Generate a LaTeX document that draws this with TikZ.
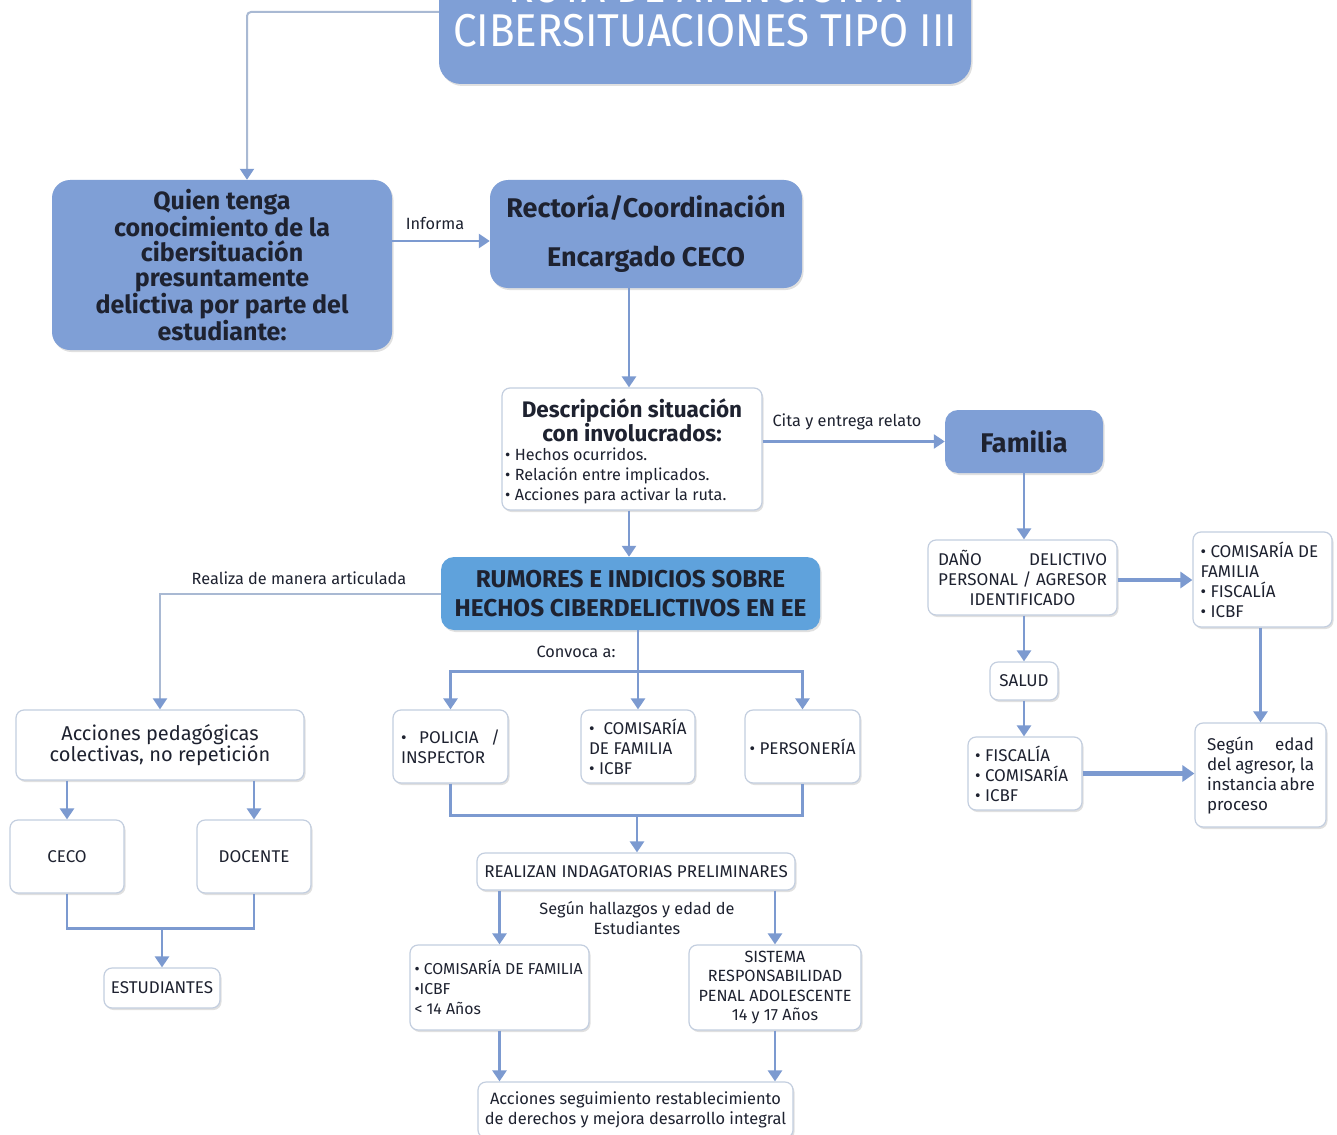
\documentclass[tikz,border=0pt]{standalone}
\usepackage{fontspec}
\usepackage{graphicx}
\setmainfont{Fira Sans}
\usetikzlibrary{arrows.meta,shadows,calc}
\definecolor{boxblue}{HTML}{7F9FD6}
\definecolor{rumblue}{HTML}{5FA2DC}
\definecolor{connc}{HTML}{7C9AD0}
\definecolor{titleconn}{HTML}{A9B9D3}
\definecolor{wborder}{HTML}{C3CEDF}
\definecolor{txtc}{HTML}{1E2230}
\newcommand{\fsz}[2]{\fontsize{#1}{#2}\selectfont}
\begin{document}
\begin{tikzpicture}[x=1pt,y=-1pt,
  shadowed/.style={drop shadow={shadow xshift=1.5pt,shadow yshift=-2pt,opacity=0.12,fill=black}},
  bluebx/.style={fill=boxblue,draw=none,rounded corners=18pt,shadowed,inner sep=0pt,text=txtc,align=center},
  whitebx/.style={fill=white,draw=wborder,line width=1.2pt,rounded corners=8pt,shadowed,inner sep=0pt,text=txtc,align=center},
  conn/.style={draw=connc,line width=2.5pt},
  arr/.style={conn,-{Triangle[width=14pt,length=11pt]}},
  arrb/.style={conn,{Triangle[width=14pt,length=11pt]}-{Triangle[width=14pt,length=11pt]}},
  thick arr/.style={draw=connc,line width=4.5pt,-{Triangle[width=16pt,length=12pt]}},
  light arr/.style={draw=titleconn,line width=2pt,-{Triangle[width=14pt,length=11pt,color=connc]}},
  lbl/.style={text=txtc,inner sep=0pt,align=center,font=\fsz{16.3}{20}},
  small/.style={font=\fsz{17}{20}}
]
\useasboundingbox (0,0) rectangle (1337,1134);
\clip (0,0) rectangle (1337,1134);
\fill[white] (0,0) rectangle (1337,1134);

% ---------- blue boxes ----------
\node[bluebx,rounded corners=22pt,minimum width=532pt,minimum height=144pt] (title) at (705,12) {};
\node[anchor=base,inner sep=0pt,text=white,font=\fsz{46}{46}] (title1) at (705,3) {\scalebox{0.915}[1]{RUTA DE ATENCIÓN A}};
\node[anchor=base,inner sep=0pt,text=white,font=\fsz{46}{46}] (title2) at (705,47) {\scalebox{0.915}[1]{CIBERSITUACIONES TIPO III}};
\node[bluebx,minimum width=340pt,minimum height=170pt,font=\bfseries\fsz{25}{25}] (quien) at (222,265)
  {Quien tenga\\conocimiento de la\\cibersituación\\presuntamente\\delictiva por parte del\\estudiante:};
\node[bluebx,minimum width=312pt,minimum height=108pt,font=\bfseries\fsz{27}{49}] (rect) at (646,234)
  {Rectoría/Coordinación\\Encargado CECO};
\node[bluebx,rounded corners=13pt,minimum width=158pt,minimum height=63pt,font=\bfseries\fsz{27}{28}] (fam) at (1024,441.5) {Familia};
\node[bluebx,fill=rumblue,rounded corners=13pt,minimum width=379pt,minimum height=73pt,font=\bfseries\fsz{24.3}{29}] (rum) at (630.5,593.5)
  {RUMORES E INDICIOS SOBRE\\HECHOS CIBERDELICTIVOS EN EE};

% ---------- description box ----------
\node[whitebx,minimum width=260pt,minimum height=122pt] (desc) at (632,449) {};
\node[lbl,font=\bfseries\fsz{22.5}{24}] (descT) at (632,420) {Descripción situación\\con involucrados:};
\node[lbl,anchor=west,align=left,font=\fsz{16.2}{20}] (descB) at (505,476)
  {• Hechos ocurridos.\\• Relación entre implicados.\\• Acciones para activar la ruta.};

% ---------- left branch ----------
\node[whitebx,minimum width=288pt,minimum height=70pt,font=\fsz{20}{20}] (accp) at (160,745) {Acciones pedagógicas\\colectivas, no repetición};
\node[whitebx,minimum width=114pt,minimum height=73pt,small] (ceco) at (67,856.5) {CECO};
\node[whitebx,minimum width=114pt,minimum height=73pt,small] (doc) at (254,856.5) {DOCENTE};
\node[whitebx,minimum width=116pt,minimum height=40pt,small] (est) at (162,988) {ESTUDIANTES};

% ---------- central branch ----------
\node[whitebx,minimum width=115pt,minimum height=73pt,small,align=left] (pol) at (450.5,746.5)
  {\makebox[99pt][s]{•\hfill POLICIA\hfill /}\\INSPECTOR\hspace*{13pt}};
\node[whitebx,minimum width=114pt,minimum height=73pt,small,align=left] (com1) at (638,746.5)
  {\makebox[98pt][l]{•\ \ COMISARÍA}\\DE FAMILIA\\• ICBF};
\node[whitebx,minimum width=115pt,minimum height=73pt,small] (pers) at (802.5,746.5) {• PERSONERÍA};
\node[whitebx,minimum width=318pt,minimum height=37pt,small] (real) at (636,871.5) {REALIZAN INDAGATORIAS PRELIMINARES};
\node[whitebx,minimum width=179pt,minimum height=85pt,font=\fsz{15.8}{20},align=left] (com2) at (499.5,987.5)
  {\makebox[170pt][l]{• COMISARÍA DE FAMILIA}\\•ICBF\\< 14 Años};
\node[whitebx,minimum width=172pt,minimum height=85pt,font=\fsz{16.2}{19.5}] (sis) at (775,987.5)
  {SISTEMA\\RESPONSABILIDAD\\PENAL ADOLESCENTE\\14 y 17 Años};
\node[whitebx,minimum width=315pt,minimum height=56pt,font=\fsz{16.4}{20}] (acs) at (635.5,1110)
  {Acciones seguimiento restablecimiento\\de derechos y mejora desarrollo integral};

% ---------- right branch ----------
\node[whitebx,minimum width=189pt,minimum height=75pt,small] (dano) at (1022.5,577.5)
  {\makebox[169pt][s]{DAÑO\hfill DELICTIVO}\\PERSONAL / AGRESOR\\IDENTIFICADO};
\node[whitebx,minimum width=139pt,minimum height=95pt,small,align=left] (com3) at (1262.5,579.5)
  {\makebox[124pt][l]{• COMISARÍA DE}\\FAMILIA\\• FISCALÍA\\• ICBF};
\node[whitebx,minimum width=68pt,minimum height=38pt,small] (salud) at (1024,681) {SALUD};
\node[whitebx,minimum width=114pt,minimum height=73pt,small,align=left] (fis) at (1025,773.5)
  {\makebox[100pt][l]{• FISCALÍA}\\• COMISARÍA\\• ICBF};
\node[whitebx,minimum width=131pt,minimum height=104pt,small,align=left] (seg) at (1260.5,775)
  {\makebox[107pt][s]{Según\hfill edad}\\\makebox[107pt][s]{del agresor, la}\\\makebox[107pt][s]{instancia abre}\\proceso};

% ---------- connectors ----------
\draw[light arr,rounded corners=4pt] (title.west) -| ([xshift=25pt]quien.north);
\draw[arr] ([yshift=24pt]quien.east) -- ([yshift=24pt]quien.east -| rect.west);
\node[lbl] (linf) at (435,223) {Informa};
\draw[arr] ([xshift=-17pt]rect.south) -- ([xshift=-17pt]rect.south |- desc.north);
\draw[arr] (desc.east |- fam.west) -- (fam.west);
\node[lbl] (lcita) at (847,422) {Cita y entrega relato};
\draw[arr] ([xshift=-3pt]desc.south) -- ([xshift=-3pt]desc.south |- rum.north);

\draw[light arr] (rum.west) -| (accp.north);
\node[lbl] (lreal) at (299,578) {Realiza de manera articulada};

\draw[arr] (rum.south -| com1.north) -- (com1.north);
\draw[arrb] (pol.north) -- ++(0,-38) -| (pers.north);
\node[lbl] (lconv) at (576,652) {Convoca a:};

\draw[conn] (pol.south) -- ++(0,32) -| (pers.south);
\coordinate (busb) at (637,815);
\draw[arr] (busb) -- (busb |- real.north);

\draw[arr] (accp.south -| ceco.north) -- (ceco.north);
\draw[arr] (accp.south -| doc.north) -- (doc.north);
\draw[conn] (ceco.south) -- ++(0,35) -| (doc.south);
\coordinate (busc) at (162,928);
\draw[arr] (busc) -- (est.north);

\draw[arr] (real.south -| com2.north) -- (com2.north);
\draw[arr] (real.south -| sis.north) -- (sis.north);
\node[lbl] (lseg) at (637,918) {Según hallazgos y edad de\\Estudiantes};
\draw[arr] (com2.south) -- (com2.south |- acs.north);
\draw[arr] (sis.south) -- (sis.south |- acs.north);

\draw[arr] (fam.south) -- (fam.south |- dano.north);
\draw[thick arr] (dano.east |- 0,580) -- (com3.west |- 0,580);
\draw[arr] (seg.north |- com3.south) -- (seg.north);
\draw[arr] (dano.south -| salud.north) -- (salud.north);
\draw[arr] (salud.south) -- (salud.south |- fis.north);
\draw[thick arr] (fis.east) -- (fis.east -| seg.west);
\end{tikzpicture}
\end{document}
